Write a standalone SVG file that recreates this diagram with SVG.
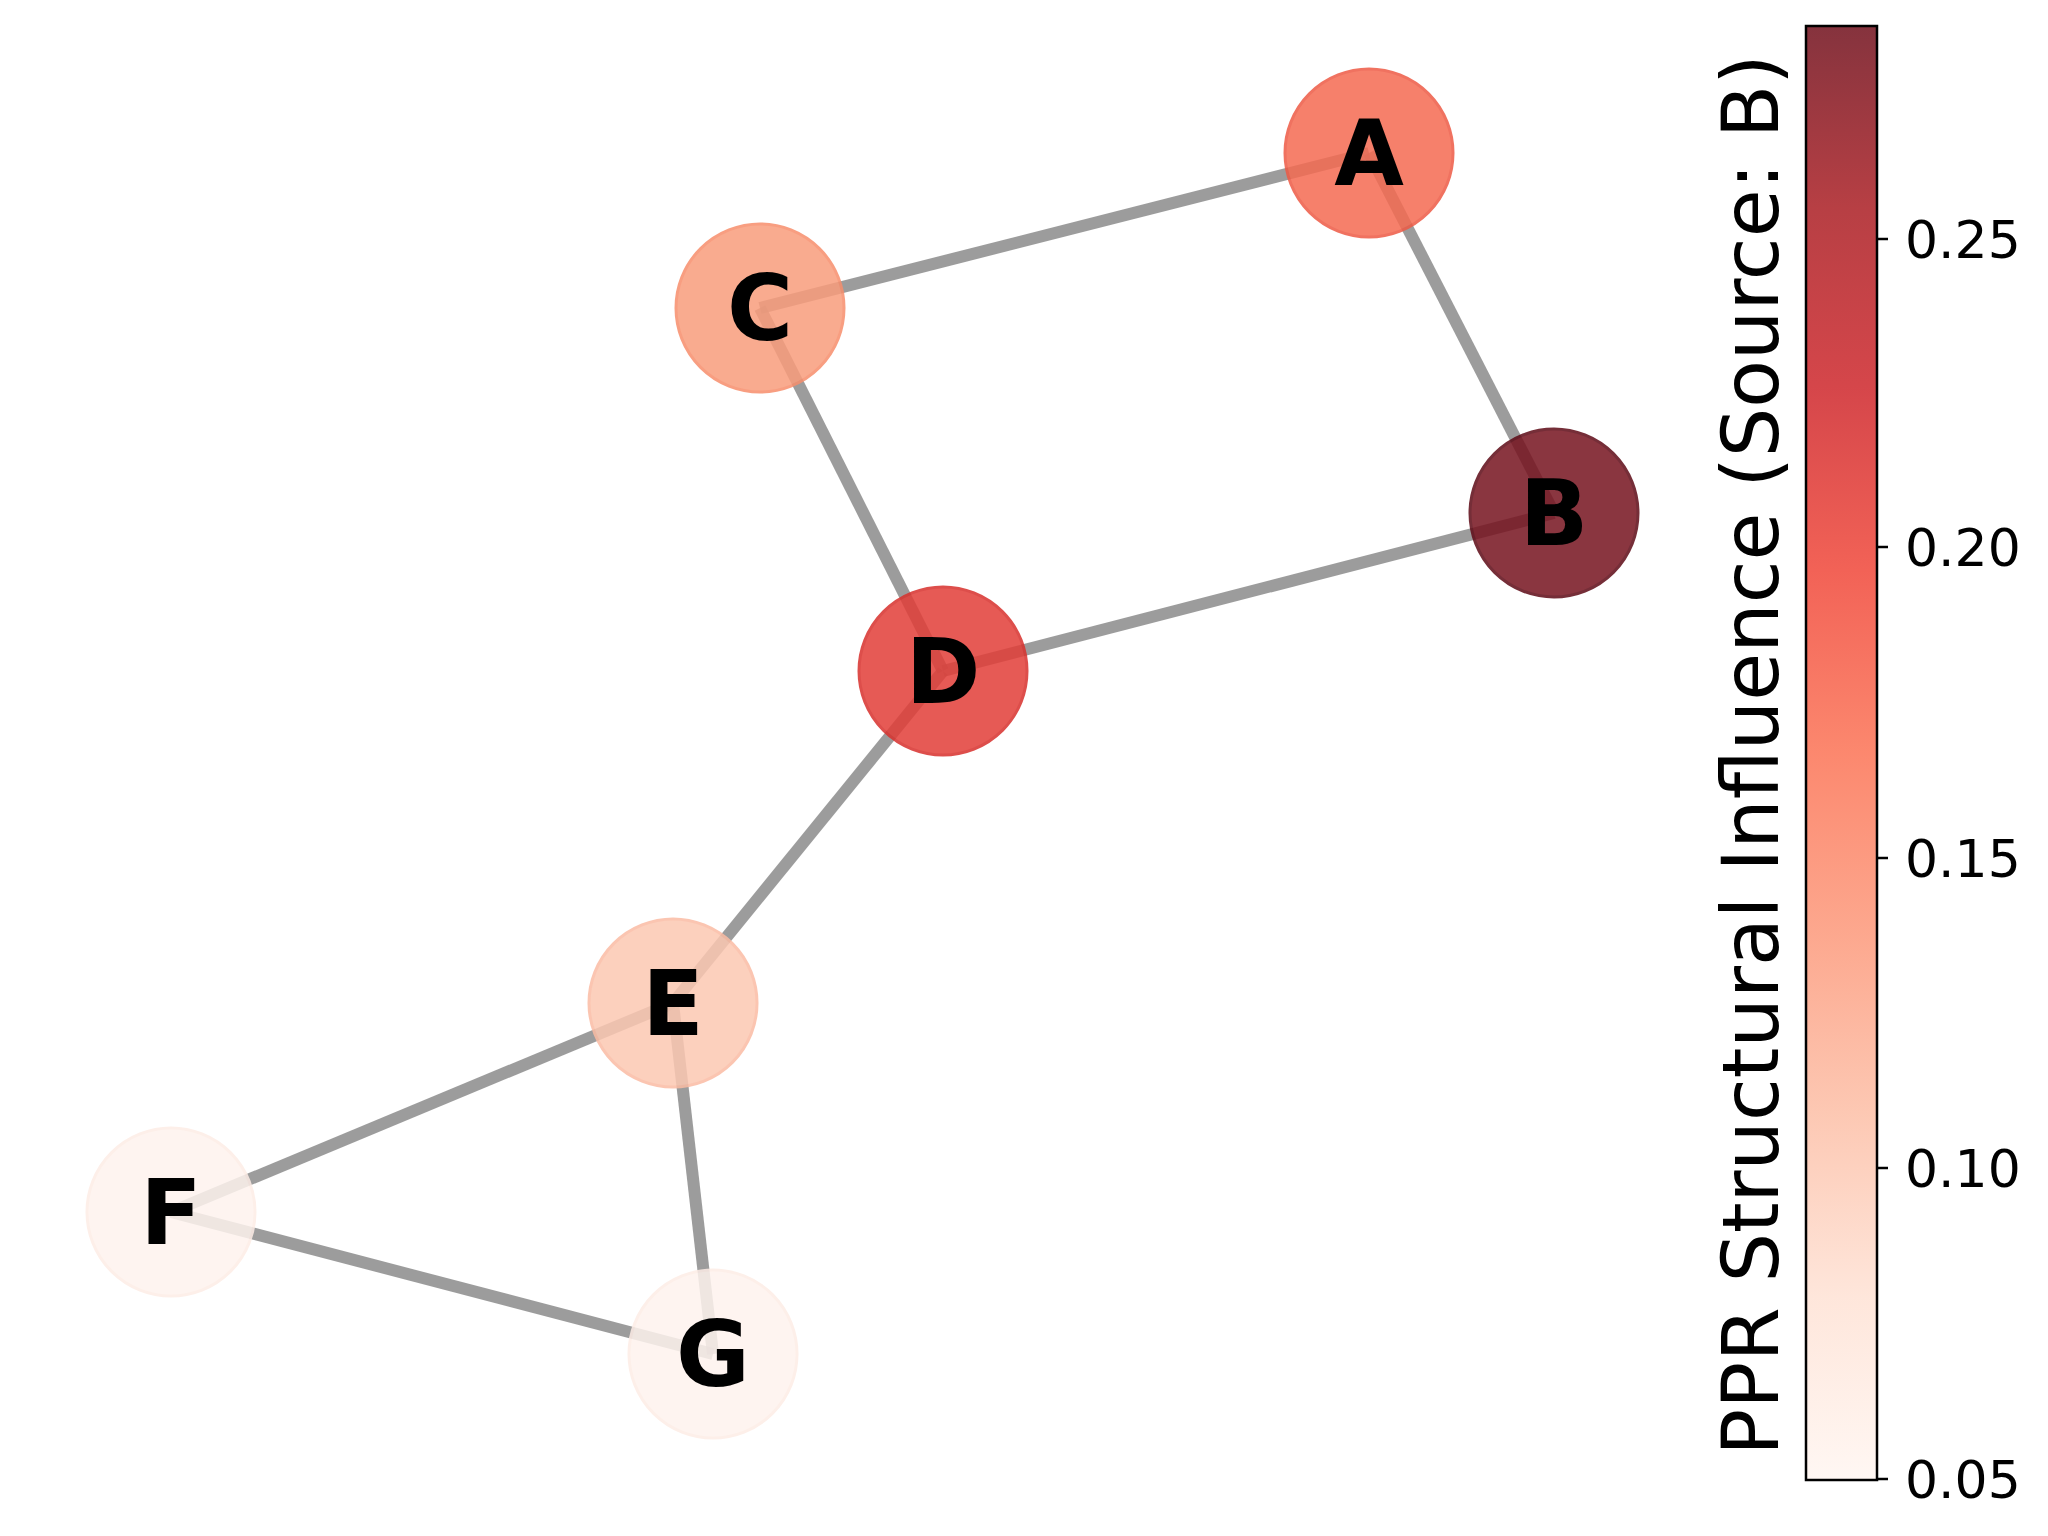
<svg xmlns="http://www.w3.org/2000/svg" width="2048" height="1536" viewBox="0 0 2048 1536">
<style>
.n{stroke-width:3;opacity:0.85}
.e line{stroke:#808080;stroke-opacity:0.78;stroke-width:12}
.l{font-family:"DejaVu Sans",sans-serif;font-weight:bold;font-size:90px;text-anchor:middle;fill:#000}
.t{font-family:"DejaVu Sans",sans-serif;font-size:52px;fill:#000}
.ax{font-family:"DejaVu Sans",sans-serif;font-size:78px;fill:#000;text-anchor:middle}
</style>
<defs>
<linearGradient id="cb" x1="0" y1="1" x2="0" y2="0">
<stop offset="0" stop-color="#fff5f0"/><stop offset="0.125" stop-color="#fee0d2"/><stop offset="0.25" stop-color="#fcbba1"/><stop offset="0.375" stop-color="#fc9272"/><stop offset="0.5" stop-color="#fb6a4a"/><stop offset="0.625" stop-color="#ef3b2c"/><stop offset="0.75" stop-color="#cb181d"/><stop offset="0.875" stop-color="#a50f15"/><stop offset="1" stop-color="#67000d"/>
</linearGradient>
</defs>
<rect width="2048" height="1536" fill="#fff"/>
<g id="edges" class="e">
<line x1="1369" y1="153" x2="760" y2="308"/>
<line x1="1369" y1="153" x2="1554" y2="513"/>
<line x1="760" y1="308" x2="943" y2="671"/>
<line x1="1554" y1="513" x2="943" y2="671"/>
<line x1="943" y1="671" x2="673" y2="1003"/>
<line x1="673" y1="1003" x2="171" y2="1212"/>
<line x1="673" y1="1003" x2="713" y2="1354"/>
<line x1="171" y1="1212" x2="713" y2="1354"/>
</g>
<g id="node-A"><circle cx="1369" cy="153" r="84" fill="#f56b52" stroke="#ee5a45" class="n"/></g>
<g id="node-C"><circle cx="760" cy="308" r="84" fill="#f99d7c" stroke="#f78e6c" class="n"/></g>
<g id="node-B"><circle cx="1554" cy="513" r="84" fill="#76131f" stroke="#5e0a16" class="n"/></g>
<g id="node-D"><circle cx="943" cy="671" r="84" fill="#e23e38" stroke="#d8302c" class="n"/></g>
<g id="node-E"><circle cx="673" cy="1003" r="84" fill="#fcc8b2" stroke="#fbbca4" class="n"/></g>
<g id="node-F"><circle cx="171" cy="1212" r="84" fill="#fef3ee" stroke="#fdede6" class="n"/></g>
<g id="node-G"><circle cx="713" cy="1354" r="84" fill="#fef3ee" stroke="#fdede6" class="n"/></g>
<g id="labels">
<text class="l" x="1369" y="185">A</text>
<text class="l" x="760" y="340">C</text>
<text class="l" x="1554" y="545">B</text>
<text class="l" x="943" y="703">D</text>
<text class="l" x="673" y="1035">E</text>
<text class="l" x="171" y="1244">F</text>
<text class="l" x="713" y="1386">G</text>
</g>
<g id="colorbar">
<rect x="1806" y="26" width="71" height="1454" fill="url(#cb)" fill-opacity="0.8" stroke="#000" stroke-width="2.5"/>
<g stroke="#000" stroke-width="2.5">
<line x1="1877" y1="239" x2="1888" y2="239"/><line x1="1877" y1="547" x2="1888" y2="547"/><line x1="1877" y1="858" x2="1888" y2="858"/><line x1="1877" y1="1168" x2="1888" y2="1168"/><line x1="1877" y1="1479" x2="1888" y2="1479"/>
</g>
<text class="t" x="1905" y="258">0.25</text>
<text class="t" x="1905" y="566">0.20</text>
<text class="t" x="1905" y="877">0.15</text>
<text class="t" x="1905" y="1187">0.10</text>
<text class="t" x="1905" y="1498">0.05</text>
<text class="ax" transform="translate(1778,755) rotate(-90)">PPR Structural Influence (Source: B)</text>
</g>
</svg>
